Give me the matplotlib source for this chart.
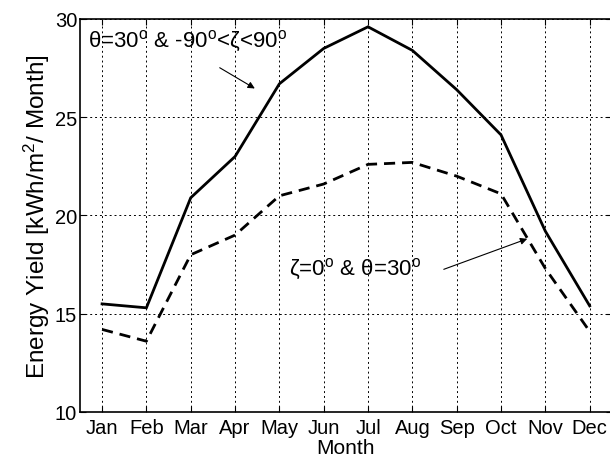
import matplotlib
matplotlib.use('Agg')
import matplotlib.pyplot as plt
import numpy as np

# Monthly energy yield [kWh/m^2/month]
months = ['Jan', 'Feb', 'Mar', 'Apr', 'May', 'Jun', 'Jul', 'Aug', 'Sep', 'Oct', 'Nov', 'Dec']
yield_tracking = [15.5, 15.3, 20.9, 23.0, 26.7, 28.5, 29.6, 28.4, 26.4, 24.1, 19.2, 15.4]
yield_fixed = [14.2, 13.6, 18.0, 19.0, 21.0, 21.6, 22.6, 22.7, 22.0, 21.1, 17.3, 14.1]

plt.rcParams['font.family'] = ['Liberation Sans', 'DejaVu Sans']
plt.rcParams['mathtext.fontset'] = 'custom'
plt.rcParams['mathtext.rm'] = 'Liberation Sans'
plt.rcParams['mathtext.it'] = 'Liberation Sans:italic'

fig = plt.figure(figsize=(6.10, 4.64), dpi=100)
ax = fig.add_axes([0.131, 0.110, 0.872, 0.847])

x = np.arange(1, 13)
ax.plot(x, yield_tracking, color='black', lw=2.0, solid_joinstyle='miter')
ax.plot(x, yield_fixed, color='black', lw=2.0, linestyle=(0, (4, 2.5)))

ax.set_xlim(0.5, 12.5)
ax.set_ylim(10, 30)
ax.set_xticks(x)
ax.set_xticklabels(months)
ax.set_yticks([10, 15, 20, 25, 30])
ax.tick_params(direction='in', top=True, right=True, labelsize=14.5, length=4, pad=2)
ax.tick_params(axis='x', pad=4)
ax.grid(True, color='black', linestyle=(0, (2, 3)), linewidth=0.7)
for s in ax.spines.values():
    s.set_linewidth(1.2)

ax.set_xlabel('Month', fontsize=15, labelpad=1)
ax.set_ylabel('Energy Yield [kWh/m$^2$/ Month]', fontsize=17.5, labelpad=2)

deg = '$^{\\mathrm{o}}$'
ax.text(0.69, 28.9, 'θ=30' + deg + ' & -90' + deg + '<ζ<90' + deg,
        fontsize=16, ha='left', va='center')
ax.annotate('', xy=(4.50, 26.39), xytext=(3.60, 27.59),
            arrowprops=dict(arrowstyle='-|>', color='black', lw=0.8,
                            mutation_scale=10))

ax.text(5.22, 17.3, 'ζ=0' + deg + ' & θ=30' + deg,
        fontsize=16, ha='left', va='center')
ax.annotate('', xy=(10.65, 18.86), xytext=(8.65, 17.21),
            arrowprops=dict(arrowstyle='-|>', color='black', lw=0.8,
                            mutation_scale=10))

plt.savefig('out.png', dpi=100)
